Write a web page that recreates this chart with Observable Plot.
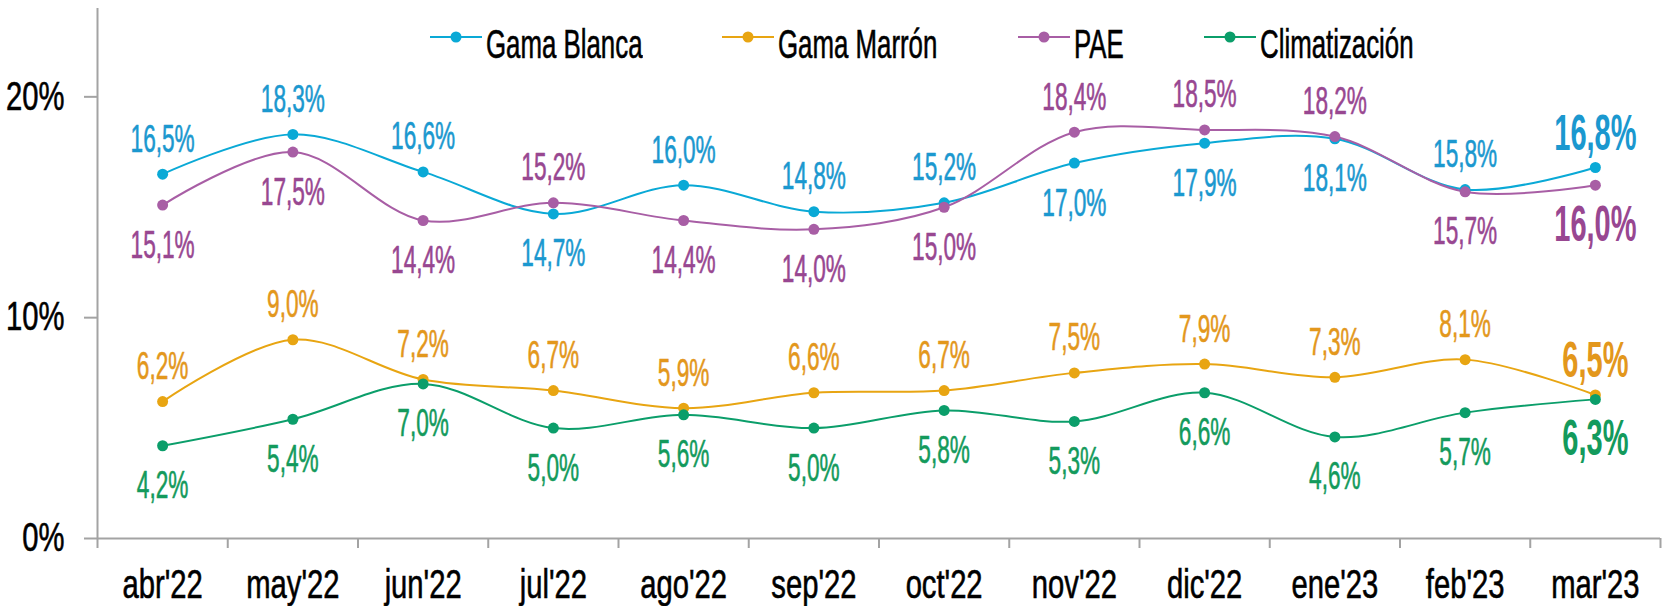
<!DOCTYPE html>
<html><head><meta charset="utf-8">
<script src="https://cdn.jsdelivr.net/npm/d3@7"></script>
<script src="https://cdn.jsdelivr.net/npm/@observablehq/plot@0.6"></script>
<style>
body{margin:0;background:#fff;}
#wrap{position:relative;width:1665px;height:606px;font-family:"Liberation Sans Narrow","Arial Narrow",sans-serif;}
#legend{position:absolute;left:430px;top:22px;display:flex;align-items:center;gap:80px;}
.item{display:flex;align-items:center;gap:4px;}
.item svg{margin-bottom:14px;}
.lbl{font-size:41px;line-height:44px;white-space:nowrap;display:inline-block;color:#000;-webkit-text-stroke:0.6px #000;}
.lbl span{display:inline-block;transform-origin:0 50%;}
</style></head><body><div id="wrap"><div id="legend"></div></div>
<script>
const months = ["abr'22","may'22","jun'22","jul'22","ago'22","sep'22","oct'22","nov'22","dic'22","ene'23","feb'23","mar'23"];
const gamaBlanca = [16.5,18.3,16.6,14.7,16.0,14.8,15.2,17.0,17.9,18.1,15.8,16.8];
const gamaMarron = [6.2,9.0,7.2,6.7,5.9,6.6,6.7,7.5,7.9,7.3,8.1,6.5];
const pae = [15.1,17.5,14.4,15.2,14.4,14.0,15.0,18.4,18.5,18.2,15.7,16.0];
const climatizacion = [4.2,5.4,7.0,5.0,5.6,5.0,5.8,5.3,6.6,4.6,5.7,6.3];
const seriesNames = ["Gama Blanca","Gama Marrón","PAE","Climatización"];
const yTicks = [0,10,20];

const lineColors = ["#0aa9d6","#e8a512","#a85ea5","#0b9e6a"];
const textColors = ["#1b98cf","#e3971c","#984791","#139a5c"];
const K_AXIS = 0.73, K_LABEL = 0.58, K_LEGEND = 0.63;

const seriesValues = [gamaBlanca, gamaMarron, pae, climatizacion];
const partner = [2, 3, 0, 1];
const rows = [];
seriesValues.forEach((vals, s) => vals.forEach((v, i) => rows.push({
  series: seriesNames[s], s, i, v,
  above: v > seriesValues[partner[s]][i],
  last: i === vals.length - 1,
  label: v.toFixed(1).replace(".", ",") + "%",
  lc: lineColors[s], tc: textColors[s]
})));

const n = months.length;
const xDomain = [-0.5, n - 0.5];
const gray = "#a3a3a3";

const labelMark = (filter, dy, size, weight) => Plot.text(rows.filter(filter), {
  x: "i", y: "v", text: "label", fill: "tc", stroke: "tc", strokeWidth: weight === "bold" ? 0 : 0.6,
  dy, fontSize: size, fontWeight: weight, lineAnchor: "middle"
});

const chart = Plot.plot({
  width: 1665, height: 606,
  marginLeft: 97, marginRight: 5, marginTop: 8, marginBottom: 68,
  x: {domain: xDomain, label: null},
  y: {domain: [0, 24], label: null},
  style: {fontFamily: '"Liberation Sans Narrow","Arial Narrow",sans-serif', fontSize: "40px", color: "#000", background: "#fff"},
  marks: [
    Plot.axisY({ticks: yTicks, tickFormat: d => d + "%", tickSize: 13, tickPadding: 20, stroke: gray, strokeWidth: 2, fill: "#000", label: null}),
    Plot.axisX({ticks: d3.range(xDomain[0], xDomain[1] + 0.01, 1), tickFormat: () => "", tickSize: 10, stroke: gray, strokeWidth: 2, label: null}),
    Plot.axisX({ticks: d3.range(n), tickFormat: i => months[i], tickSize: 0, tickPadding: 31, fill: "#000", label: null}),
    Plot.ruleY([0], {stroke: gray, strokeWidth: 2}),
    Plot.ruleX([xDomain[0]], {stroke: gray, strokeWidth: 2}),
    Plot.line(rows, {x: "i", y: "v", z: "series", stroke: "lc", strokeWidth: 2, curve: "catmull-rom"}),
    Plot.dot(rows, {x: "i", y: "v", fill: "lc", r: 5.5}),
    labelMark(d => !d.last && d.above, -35, 39, "normal"),
    labelMark(d => !d.last && !d.above, 40, 39, "normal"),
    labelMark(d => d.last && d.above, -34, 50, "bold"),
    labelMark(d => d.last && !d.above, 40, 50, "bold")
  ]
});
const labelTexts = new Set(chart.querySelectorAll('g[aria-label="text"] text'));
chart.querySelectorAll("text").forEach(t => {
  const isLabel = labelTexts.has(t);
  const k = isLabel ? K_LABEL : K_AXIS;
  t.setAttribute("transform", (t.getAttribute("transform") || "") + ` scale(${k},1)`);
  if (!isLabel) { t.setAttribute("stroke", "#000"); t.setAttribute("stroke-width", "0.6"); }
});
const wrap = document.getElementById("wrap");
wrap.insertBefore(chart, wrap.firstChild);

const legend = document.getElementById("legend");
seriesNames.forEach((name, s) => {
  const item = document.createElement("div");
  item.className = "item";
  item.innerHTML = `<svg width="52" height="12"><line x1="0" x2="52" y1="6" y2="6" stroke="${lineColors[s]}" stroke-width="2"/><circle cx="26" cy="6" r="5.5" fill="${lineColors[s]}"/></svg>`;
  const lbl = document.createElement("div");
  lbl.className = "lbl";
  const span = document.createElement("span");
  span.textContent = name;
  lbl.appendChild(span);
  item.appendChild(lbl);
  legend.appendChild(item);
  const w = span.getBoundingClientRect().width;
  span.style.transform = `scaleX(${K_LEGEND})`;
  lbl.style.width = (w * K_LEGEND) + "px";
});
</script></body></html>
